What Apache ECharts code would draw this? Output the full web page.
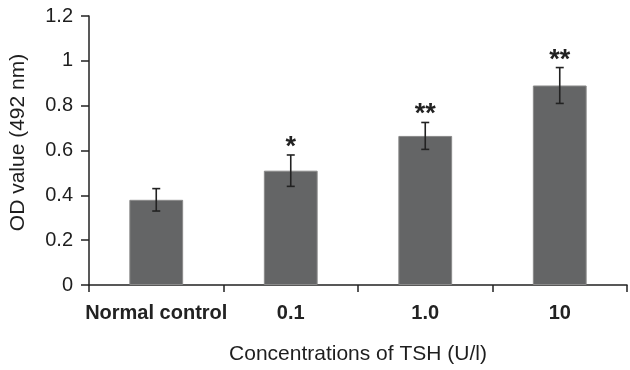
<!DOCTYPE html>
<html>
<head>
<meta charset="utf-8">
<script src="https://cdn.jsdelivr.net/npm/echarts@6/dist/echarts.min.js"></script>
<style>
  html, body { margin: 0; padding: 0; background: #fff; }
  #chart { width: 630px; height: 370px; }
</style>
</head>
<body>
<div id="chart"></div>
<script>
const categories = ['Normal control', '0.1', '1.0', '10'];
const odValues = [0.38, 0.51, 0.665, 0.89];
const errors = [0.05, 0.07, 0.06, 0.08];
const marks = ['', '*', '**', '**'];

const chart = echarts.init(document.getElementById('chart'));

const errData = odValues.map((v, i) => [i, v - errors[i], v + errors[i]]);

const option = {
  animation: false,
  grid: { left: 89, right: 3, top: 16, bottom: 85 },
  xAxis: {
    type: 'category',
    data: categories,
    name: 'Concentrations of TSH (U/l)',
    nameLocation: 'middle',
    nameGap: 59,
    nameTextStyle: { fontFamily: 'Liberation Sans', fontSize: 21, color: '#1e1e1e' },
    axisLine: { lineStyle: { color: '#222', width: 1.5 } },
    axisTick: { show: true, length: 7, lineStyle: { color: '#222', width: 1.5 } },
    axisLabel: {
      interval: 0,
      fontFamily: 'Liberation Sans', fontSize: 20, fontWeight: 'bold', color: '#222', margin: 18
    }
  },
  yAxis: {
    type: 'value',
    min: 0,
    max: 1.2,
    interval: 0.2,
    name: 'OD value (492 nm)',
    nameLocation: 'middle',
    nameGap: 60,
    nameTextStyle: { fontFamily: 'Liberation Sans', fontSize: 21, color: '#1e1e1e', padding: [0, 0, 0, 16] },
    axisLine: { show: true, lineStyle: { color: '#222', width: 1.5 } },
    axisTick: { show: true, length: 8, lineStyle: { color: '#222', width: 1.5 } },
    splitLine: { show: false },
    axisLabel: {
      fontFamily: 'Liberation Sans', fontSize: 20, color: '#1e1e1e', margin: 16,
      formatter: v => String(+v.toFixed(1))
    }
  },
  series: [
    {
      type: 'bar',
      data: odValues,
      barWidth: '40%',
      itemStyle: { color: '#646566', borderColor: '#8a8a8a', borderWidth: 1 }
    },
    {
      type: 'custom',
      data: errData,
      z: 5,
      renderItem: function (params, api) {
        const x = api.value(0);
        const lo = api.coord([x, api.value(1)]);
        const hi = api.coord([x, api.value(2)]);
        const cap = 4;
        const style = { stroke: '#222', lineWidth: 1.6 };
        const children = [
          { type: 'line', shape: { x1: lo[0], y1: lo[1], x2: hi[0], y2: hi[1] }, style },
          { type: 'line', shape: { x1: hi[0] - cap, y1: hi[1], x2: hi[0] + cap, y2: hi[1] }, style },
          { type: 'line', shape: { x1: lo[0] - cap, y1: lo[1], x2: lo[0] + cap, y2: lo[1] }, style }
        ];
        const mark = marks[params.dataIndex];
        if (mark) {
          children.push({
            type: 'text',
            style: {
              text: mark, x: hi[0], y: hi[1] + 6,
              align: 'center', verticalAlign: 'bottom',
              fontFamily: 'Liberation Sans', fontSize: 27, fontWeight: 'bold', fill: '#222'
            }
          });
        }
        return { type: 'group', children };
      }
    }
  ]
};

chart.setOption(option);
</script>
</body>
</html>
